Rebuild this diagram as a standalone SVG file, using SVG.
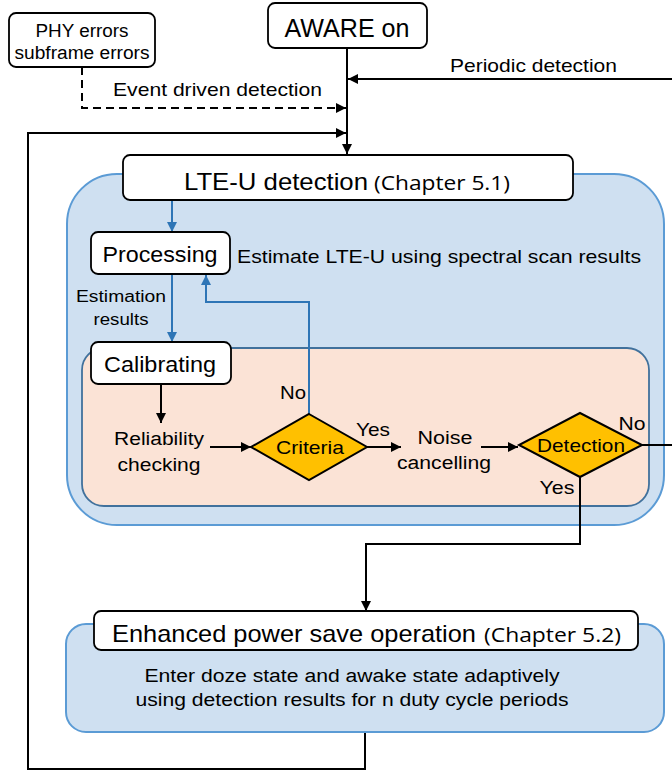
<svg xmlns="http://www.w3.org/2000/svg" width="672" height="771" viewBox="0 0 672 771">
<style>
text{font-family:"Liberation Sans",Arial,sans-serif;fill:#000}
.box{fill:#fff;stroke:#000;stroke-width:1.8}
.cont{fill:#cfe0f1;stroke:#5b9bd5;stroke-width:2}
.peach{fill:#fbe3d6;stroke:#41719c;stroke-width:1.8}
.dia{fill:#ffc000;stroke:#000;stroke-width:2}
.ln{fill:none;stroke:#000;stroke-width:2}
.bl{fill:none;stroke:#2e75b6;stroke-width:2}
.ch{font-family:"Open Sans","Noto Sans",sans-serif}
</style>
<defs>
<marker id="ab" viewBox="0 0 10 10" refX="10" refY="5" markerWidth="10" markerHeight="10" markerUnits="userSpaceOnUse" orient="auto"><path d="M0,0L10,5L0,10z" fill="#000"/></marker>
<marker id="au" viewBox="0 0 10 10" refX="10" refY="5" markerWidth="10" markerHeight="10" markerUnits="userSpaceOnUse" orient="auto"><path d="M0,0L10,5L0,10z" fill="#2e75b6"/></marker>
</defs>

<g id="lte-container"><rect class="cont" x="67" y="174" width="597" height="351" rx="50"/></g>
<g id="calib-container"><rect class="peach" x="82" y="348" width="567" height="158" rx="22"/></g>
<g id="power-container"><rect class="cont" x="66" y="624" width="598" height="108" rx="20"/>
<text x="352" y="682" font-size="18" text-anchor="middle" textLength="415" lengthAdjust="spacingAndGlyphs">Enter doze state and awake state adaptively</text>
<text x="352" y="706" font-size="18" text-anchor="middle" textLength="433" lengthAdjust="spacingAndGlyphs">using detection results for n duty cycle periods</text>
</g>

<g id="connectors">
<path class="ln" d="M347,48V154" marker-end="url(#ab)"/>
<path class="ln" d="M672,79H348" marker-end="url(#ab)"/>
<path class="ln" d="M82,67V108H346" stroke-dasharray="8,5" marker-end="url(#ab)"/>
<path class="ln" d="M365,733V769H28V133H346" marker-end="url(#ab)"/>
<path class="bl" d="M172,200V232" marker-end="url(#au)"/>
<path class="bl" d="M172,274V342" marker-end="url(#au)"/>
<path class="bl" d="M309,414V302H206V275" marker-end="url(#au)"/>
<path class="ln" d="M161,384V423" marker-end="url(#ab)"/>
<path class="ln" d="M210,447H251" marker-end="url(#ab)"/>
<path class="ln" d="M367,447H401" marker-end="url(#ab)"/>
<path class="ln" d="M481,447H518" marker-end="url(#ab)"/>
<path class="ln" d="M642,445H672"/>
<path class="ln" d="M580,477V544H366V611" marker-end="url(#ab)"/>
</g>

<g id="phy"><rect class="box" x="9" y="13" width="146" height="54" rx="7"/>
<text x="82" y="37" font-size="18" text-anchor="middle" textLength="93" lengthAdjust="spacingAndGlyphs">PHY errors</text>
<text x="82" y="59" font-size="18" text-anchor="middle" textLength="135" lengthAdjust="spacingAndGlyphs">subframe errors</text>
</g>
<g id="aware"><rect class="box" x="268" y="3" width="159" height="45" rx="7"/>
<text x="347" y="37" font-size="25" text-anchor="middle" textLength="125" lengthAdjust="spacingAndGlyphs">AWARE on</text>
</g>
<g id="labels-top">
<text x="450" y="72" font-size="19" textLength="167" lengthAdjust="spacingAndGlyphs">Periodic detection</text>
<text x="113" y="96" font-size="19" textLength="209" lengthAdjust="spacingAndGlyphs">Event driven detection</text>
</g>
<g id="lte"><rect class="box" x="123" y="155" width="450" height="45" rx="7"/>
<text x="184" y="190" font-size="24" textLength="184" lengthAdjust="spacingAndGlyphs">LTE-U detection</text>
<text class="ch" x="374" y="190" font-size="20" textLength="136" lengthAdjust="spacingAndGlyphs">(Chapter 5.1)</text>
</g>
<g id="processing"><rect class="box" x="91" y="232" width="139" height="42" rx="7"/>
<text x="160" y="262" font-size="22" text-anchor="middle" textLength="115" lengthAdjust="spacingAndGlyphs">Processing</text>
<text x="237" y="263" font-size="19" textLength="404" lengthAdjust="spacingAndGlyphs">Estimate LTE-U using spectral scan results</text>
<text x="121" y="302" font-size="16" text-anchor="middle" textLength="90" lengthAdjust="spacingAndGlyphs">Estimation</text>
<text x="121" y="325" font-size="16" text-anchor="middle" textLength="55" lengthAdjust="spacingAndGlyphs">results</text>
</g>
<g id="calibrating"><rect class="box" x="91" y="342" width="140" height="42" rx="7"/>
<text x="160" y="372" font-size="22" text-anchor="middle" textLength="112" lengthAdjust="spacingAndGlyphs">Calibrating</text>
</g>
<g id="reliability">
<text x="159" y="445" font-size="18" text-anchor="middle" textLength="90" lengthAdjust="spacingAndGlyphs">Reliability</text>
<text x="159" y="471" font-size="18" text-anchor="middle" textLength="83" lengthAdjust="spacingAndGlyphs">checking</text>
</g>
<g id="criteria"><polygon class="dia" points="309,414 367,447 309,480 251,447"/>
<text x="310" y="454" font-size="19" text-anchor="middle" textLength="68" lengthAdjust="spacingAndGlyphs">Criteria</text>
<text x="293" y="399" font-size="19" text-anchor="middle" textLength="26" lengthAdjust="spacingAndGlyphs">No</text>
<text x="373" y="436" font-size="19" text-anchor="middle" textLength="34" lengthAdjust="spacingAndGlyphs">Yes</text>
</g>
<g id="noise">
<text x="445" y="444" font-size="18" text-anchor="middle" textLength="55" lengthAdjust="spacingAndGlyphs">Noise</text>
<text x="444" y="469" font-size="18" text-anchor="middle" textLength="94" lengthAdjust="spacingAndGlyphs">cancelling</text>
</g>
<g id="detection"><polygon class="dia" points="580,413 642,445 580,477 519,445"/>
<text x="581" y="452" font-size="19" text-anchor="middle" textLength="88" lengthAdjust="spacingAndGlyphs">Detection</text>
<text x="632" y="430" font-size="19" text-anchor="middle" textLength="27" lengthAdjust="spacingAndGlyphs">No</text>
<text x="557" y="494" font-size="19" text-anchor="middle" textLength="35" lengthAdjust="spacingAndGlyphs">Yes</text>
</g>
<g id="power"><rect class="box" x="94" y="611" width="544" height="39" rx="7"/>
<text x="112" y="642" font-size="24" textLength="364" lengthAdjust="spacingAndGlyphs">Enhanced power save operation</text>
<text class="ch" x="484" y="642" font-size="20" textLength="137" lengthAdjust="spacingAndGlyphs">(Chapter 5.2)</text>
</g>
</svg>
